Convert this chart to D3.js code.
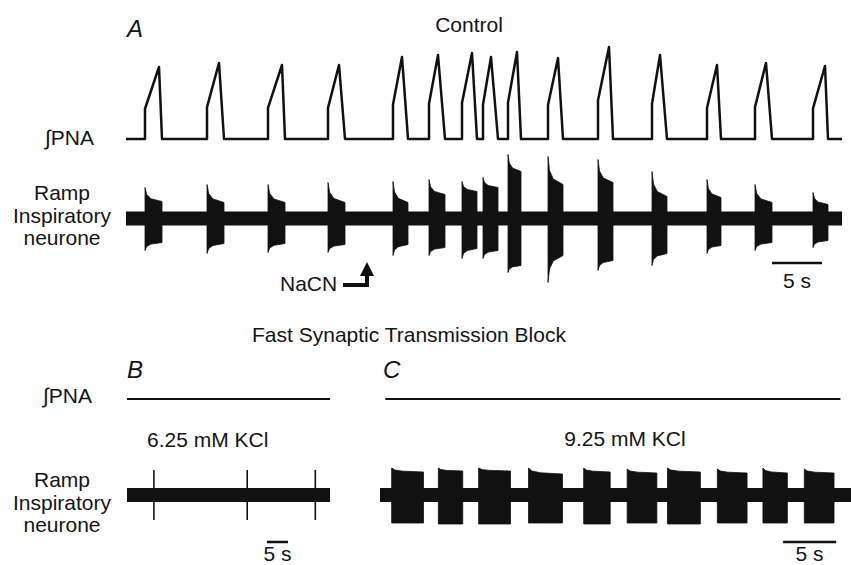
<!DOCTYPE html>
<html>
<head>
<meta charset="utf-8">
<script src="https://cdn.jsdelivr.net/npm/d3@7"></script>
<style>
  body { margin: 0; background: #fff; }
  svg { display: block; background: #fff; }
  text { font-family: "Liberation Sans", Arial, Helvetica, sans-serif; fill: #141414; font-size: 21px; }
  .panel-letter { font-style: italic; font-size: 24px; }
</style>
</head>
<body>
<svg id="chart" width="851" height="565"></svg>
<script>
// ---- Panel A, control: burst timing in seconds from start of sweep
const aSweep    = 71.6;
const aOnset    = [1.9, 8.1, 14.2, 20.2, 26.7, 30.3, 33.6, 35.7, 38.2, 42.2, 47.2, 52.6, 58.1, 62.9, 68.7];
const aPeakTime = [3.3, 9.3, 15.6, 21.3, 27.6, 31.2, 34.6, 36.5, 39.1, 43.2, 48.3, 53.4, 59.1, 64.0, 69.9];
const aOffset   = [3.6, 9.8, 15.9, 21.9, 28.2, 31.9, 35.1, 37.2, 39.5, 43.7, 48.7, 54.1, 59.5, 64.6, 70.2];
// integrated phrenic nerve activity, peak of each burst (a.u.)
const aPnaPeak  = [72, 76, 74, 74, 82, 84, 86, 82, 87, 81, 92, 84, 74, 76, 73];
// ramp inspiratory unit envelope (a.u.), above / below baseline, at burst start and burst end
const aUnitUp      = [31, 34, 34, 36, 37, 39, 37, 41, 64, 62, 59, 47, 39, 34, 26];
const aUnitUpEnd   = [17, 16, 16, 16, 16, 24, 27, 31, 47, 34, 36, 22, 21, 16, 14];
const aUnitDown    = [32, 35, 34, 34, 37, 37, 40, 40, 54, 64, 52, 47, 35, 32, 29];
const aUnitDownEnd = [24, 25, 25, 26, 26, 29, 30, 32, 47, 37, 42, 35, 27, 24, 22];
const naCnTime = 24.1;

// ---- Panel B, 6.25 mM KCl: isolated unit spikes
const bSweep     = 48.3;
const bSpikeTime = [6.4, 28.6, 44.8];
const bSpikeAmp  = [25, 25, 25];

// ---- Panel C, 9.25 mM KCl: unit bursts, no phrenic output
const cSweep      = 44.4;
const cPnaSpan    = [0.5, 43.4];
const cOnset      = [1.1, 5.5, 9.3, 14.0, 19.2, 23.3, 27.1, 31.8, 36.1, 40.0];
const cOffset     = [4.1, 7.8, 12.3, 17.2, 21.7, 26.1, 30.2, 34.6, 38.4, 42.8];
const cUnitUp     = [27, 27, 27, 27, 27, 26, 27, 26, 27, 26];
const cUnitUpEnd  = [23, 24, 24, 21, 23, 22, 23, 22, 22, 22];
const cUnitDown   = [28, 29, 29, 28, 29, 28, 29, 28, 28, 28];

const unitNoise = 7;        // half height of the unit baseline band (a.u.)
const scaleBarSeconds = 5;

const svg = d3.select("#chart");
const ink = "#111";

// scales
const xA = d3.scaleLinear().domain([0, aSweep]).range([126, 842]);
const xB = d3.scaleLinear().domain([0, bSweep]).range([127, 330]);
const xC = d3.scaleLinear().domain([0, cSweep]).range([380, 851]);
const yPnaA  = d3.scaleLinear().domain([0, 100]).range([139, 39]);
const yUnitA = d3.scaleLinear().domain([-70, 70]).range([288.5, 148.5]);
const yPnaBC = d3.scaleLinear().domain([0, 100]).range([399, 299]);
const yUnitBC = d3.scaleLinear().domain([-70, 70]).range([565, 425]);

const line = (x, y) => d3.line().x(d => x(d[0])).y(d => y(d[1]));

/**
 * Integrated PNA: flat baseline, a jump at onset, ramp to peak
 * and a quick fall at the end of inspiration.
 */
function pnaPoints(onset, peakT, offset, peak, t0, t1) {
  let pts = [[t0, 0]];
  onset.forEach((o, i) => {
    pts.push([o, 0], [o, 0.42 * peak[i]], [peakT[i], peak[i]], [offset[i], 0]);
  });
  pts.push([t1, 0]);
  return pts;
}

/**
 * Unit bursts drawn as a filled envelope: tall first spikes
 * decaying towards the end of the burst.
 */
function burstPoints(o, e, up, upEnd, down, downEnd) {
  let d = e - o;
  let u1 = up - 0.5 * (up - upEnd), u2 = up - 0.8 * (up - upEnd);
  let d1 = down - 0.5 * (down - downEnd), d2 = down - 0.8 * (down - downEnd);
  return [
    [o, up], [o + 0.1 * d, u1], [o + 0.35 * d, u2], [e, upEnd],
    [e, -downEnd], [o + 0.35 * d, -d2], [o + 0.1 * d, -d1], [o, -down]
  ];
}

function drawUnit(g, x, y, t0, t1, onset, offset, up, upEnd, down, downEnd) {
  g.append("rect")
    .attr("x", x(t0)).attr("width", x(t1) - x(t0))
    .attr("y", y(unitNoise)).attr("height", y(-unitNoise) - y(unitNoise))
    .attr("fill", ink);
  g.selectAll("path.burst")
    .data(onset.map((o, i) => burstPoints(o, offset[i], up[i], upEnd[i], down[i], downEnd[i])))
    .enter().append("path")
      .attr("class", "burst")
      .attr("d", d => line(x, y)(d) + "Z")
      .attr("fill", ink)
      .attr("stroke", ink)
      .attr("stroke-width", 0.8);
}

function scaleBar(x, t, yBar, yText) {
  svg.append("line")
    .attr("x1", x(t)).attr("x2", x(t + scaleBarSeconds))
    .attr("y1", yBar).attr("y2", yBar)
    .attr("stroke", ink).attr("stroke-width", 2.5);
  svg.append("text")
    .attr("x", (x(t) + x(t + scaleBarSeconds)) / 2).attr("y", yText)
    .attr("text-anchor", "middle")
    .text(scaleBarSeconds + " s");
}

function unitLabel(cx, y0) {
  ["Ramp", "Inspiratory", "neurone"].forEach((s, i) => {
    svg.append("text")
      .attr("x", cx).attr("y", y0 + i * 22.5)
      .attr("text-anchor", "middle")
      .text(s);
  });
}

// ---------- Panel A
const gA = svg.append("g");
gA.append("path")
  .attr("d", line(xA, yPnaA)(pnaPoints(aOnset, aPeakTime, aOffset, aPnaPeak, 0, aSweep)))
  .attr("fill", "none")
  .attr("stroke", ink)
  .attr("stroke-width", 2.5)
  .attr("stroke-linejoin", "round");

drawUnit(gA, xA, yUnitA, 0, aSweep, aOnset, aOffset, aUnitUp, aUnitUpEnd, aUnitDown, aUnitDownEnd);

svg.append("text").attr("class", "panel-letter").attr("x", 127).attr("y", 37).text("A");
svg.append("text").attr("x", 469).attr("y", 32).attr("text-anchor", "middle").text("Control");
svg.append("text").attr("x", 45).attr("y", 145).text("\u222BPNA");
unitLabel(62, 200);

// NaCN marker
const xn = xA(naCnTime);
svg.append("text").attr("x", xn - 87).attr("y", 291).text("NaCN");
svg.append("path")
  .attr("d", `M${xn - 24},285 H${xn} V272`)
  .attr("fill", "none").attr("stroke", ink).attr("stroke-width", 4);
svg.append("path")
  .attr("d", `M${xn - 7},276 L${xn + 7},276 L${xn},262 Z`)
  .attr("fill", ink);

scaleBar(xA, 64.6, 263, 288);

// ---------- Fast synaptic transmission block
svg.append("text").attr("x", 409).attr("y", 342).attr("text-anchor", "middle")
  .text("Fast Synaptic Transmission Block");

// Panel B
const gB = svg.append("g");
gB.append("path")
  .attr("d", line(xB, yPnaBC)([[0, 0], [bSweep, 0]]))
  .attr("fill", "none").attr("stroke", ink).attr("stroke-width", 1.8);
gB.append("rect")
  .attr("x", xB(0)).attr("width", xB(bSweep) - xB(0))
  .attr("y", yUnitBC(unitNoise)).attr("height", yUnitBC(-unitNoise) - yUnitBC(unitNoise))
  .attr("fill", ink);
gB.selectAll("line.spike")
  .data(bSpikeTime)
  .enter().append("line")
    .attr("class", "spike")
    .attr("x1", d => xB(d)).attr("x2", d => xB(d))
    .attr("y1", (d, i) => yUnitBC(bSpikeAmp[i])).attr("y2", (d, i) => yUnitBC(-bSpikeAmp[i]))
    .attr("stroke", ink).attr("stroke-width", 1.6);

svg.append("text").attr("class", "panel-letter").attr("x", 127).attr("y", 378).text("B");
svg.append("text").attr("x", 43).attr("y", 403).text("\u222BPNA");
svg.append("text").attr("x", 147).attr("y", 447).text("6.25 mM KCl");
unitLabel(62, 487);
scaleBar(xB, 33.3, 542, 561);

// Panel C
const gC = svg.append("g");
gC.append("path")
  .attr("d", line(xC, yPnaBC)([[cPnaSpan[0], 0], [cPnaSpan[1], 0]]))
  .attr("fill", "none").attr("stroke", ink).attr("stroke-width", 1.8);
drawUnit(gC, xC, yUnitBC, 0, cSweep, cOnset, cOffset, cUnitUp, cUnitUpEnd, cUnitDown, cUnitDown);

svg.append("text").attr("class", "panel-letter").attr("x", 383).attr("y", 378).text("C");
svg.append("text").attr("x", 625).attr("y", 446).attr("text-anchor", "middle").text("9.25 mM KCl");
scaleBar(xC, 38.0, 542, 561);
</script>
</body>
</html>
